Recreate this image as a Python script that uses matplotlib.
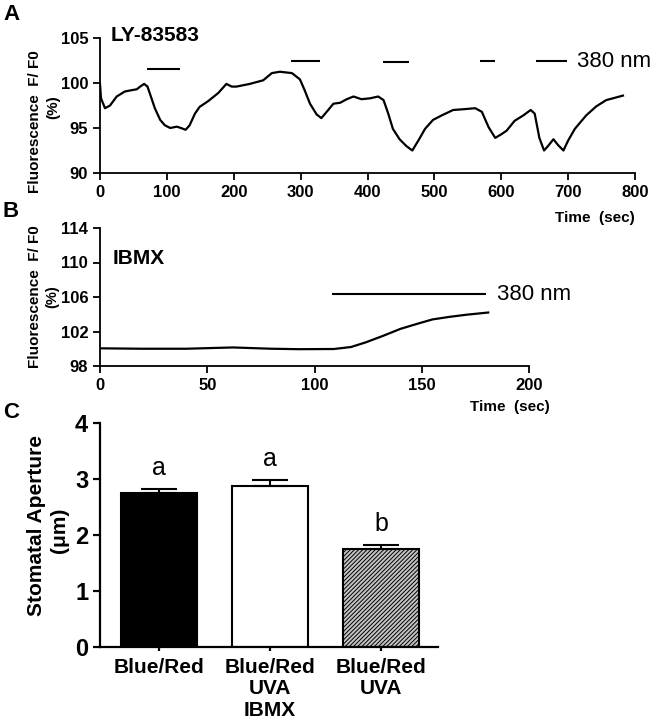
import matplotlib
matplotlib.use("Agg")
import matplotlib.pyplot as plt
import numpy as np

plt.rcParams['font.family'] = ['Liberation Sans', 'DejaVu Sans']
plt.rcParams['hatch.color'] = '#3a3a3a'
plt.rcParams['hatch.linewidth'] = 0.7

# ---------------- data ----------------
# Panel A: LY-83583 trace
tA = [0, 1.5, 7.5, 15, 25, 37, 47, 55, 60, 66, 71, 77, 82, 90, 97, 105, 115, 121, 128, 134, 142, 149,
      162, 177, 189, 197, 204, 224, 244, 257, 269, 287, 299, 306, 314, 324, 331, 339, 349, 359, 369,
      379, 391, 404, 416, 424, 431, 438, 448, 458, 467, 476, 486, 498, 511, 528, 546, 561, 571, 581,
      591, 600, 608, 620, 633, 644, 650, 657, 664, 670, 678, 685, 693, 700, 710, 727, 742, 757, 782]
fA = [99.9, 98.3, 97.2, 97.5, 98.5, 99.05, 99.2, 99.3, 99.6, 99.9, 99.6, 98.3, 97.2, 95.9, 95.3, 95.0,
      95.15, 95.0, 94.8, 95.3, 96.6, 97.35, 98.0, 98.9, 99.9, 99.6, 99.6, 99.9, 100.3, 101.1, 101.25,
      101.1, 100.4, 99.2, 97.7, 96.5, 96.1, 96.8, 97.7, 97.8, 98.2, 98.5, 98.2, 98.3, 98.5, 98.1, 96.6,
      94.9, 93.75, 93.0, 92.5, 93.6, 94.9, 95.9, 96.4, 97.0, 97.1, 97.2, 96.8, 95.1, 93.9, 94.3, 94.7,
      95.8, 96.4, 97.0, 96.6, 93.9, 92.5, 93.0, 93.75, 93.1, 92.5, 93.6, 94.9, 96.4, 97.4, 98.1, 98.6]
stimA_start = [70, 285, 423, 568, 652]
stimA_end = [120, 329, 462, 591, 698]
stimA_level = [101.6, 102.4, 102.3, 102.5, 102.5]

# Panel B: IBMX trace
tB = [0, 20, 40, 62, 80, 93, 109, 117, 124, 132, 140, 148, 155, 163, 171, 181]
fB = [100.05, 100.0, 100.0, 100.15, 100.0, 99.95, 99.97, 100.2, 100.75, 101.5, 102.3, 102.9, 103.4,
      103.7, 103.95, 104.2]
stimB_start = [108]
stimB_end = [180]
stimB_level = [106.3]

# Panel C: stomatal aperture
categories = ['Blue/Red', 'Blue/Red\nUVA\nIBMX', 'Blue/Red\nUVA']
aperture = [2.75, 2.875, 1.75]
aperture_err = [0.07, 0.10, 0.07]
letters = ['a', 'a', 'b']

W, H = 660, 723
fig = plt.figure(figsize=(W / 100, H / 100), dpi=100)


def rect(l, t, r, b):
    return [l / W, 1 - b / H, (r - l) / W, (b - t) / H]


def style(ax, lw=1.3):
    for s in ['top', 'right']:
        ax.spines[s].set_visible(False)
    for s in ['left', 'bottom']:
        ax.spines[s].set_linewidth(lw)
    ax.tick_params(direction='out', width=lw, length=5)


# ---------------- Panel A ----------------
axA = fig.add_axes(rect(100, 38, 635, 173))
axA.plot(tA, fA, color='black', lw=1.6, solid_joinstyle='round')
axA.hlines(stimA_level, stimA_start, stimA_end, color='black', lw=1.5)
axA.text(713, 102.4, '380 nm', fontsize=16, va='center', ha='left')
axA.set_xlim(0, 800)
axA.set_ylim(90, 105)
axA.set_xticks(range(0, 801, 100))
axA.set_yticks([90, 95, 100, 105])
style(axA)
for lab in axA.get_xticklabels() + axA.get_yticklabels():
    lab.set_fontweight('bold')
    lab.set_fontsize(12)
axA.text(0.02, 1.02, 'LY-83583', transform=axA.transAxes, fontsize=15, fontweight='bold',
         va='center', ha='left')
fig.text(635 / W, 1 - 218 / H, 'Time  (sec)', fontsize=11, fontweight='bold', ha='right', va='center')
fig.text(35 / W, 1 - 122 / H, 'Fluorescence  F/ F0', rotation=90, fontsize=11, fontweight='bold',
         ha='center', va='center')
fig.text(53 / W, 1 - 107 / H, '(%)', rotation=90, fontsize=11, fontweight='bold',
         ha='center', va='center')
fig.text(3 / W, 1 - 14 / H, 'A', fontsize=16, fontweight='bold', ha='left', va='center')

# ---------------- Panel B ----------------
axB = fig.add_axes(rect(100, 228, 529, 366))
axB.plot(tB, fB, color='black', lw=1.6, solid_joinstyle='round')
axB.hlines(stimB_level, stimB_start, stimB_end, color='black', lw=1.5)
axB.text(185, 106.3, '380 nm', fontsize=16, va='center', ha='left')
axB.set_xlim(0, 200)
axB.set_ylim(98, 114)
axB.set_xticks([0, 50, 100, 150, 200])
axB.set_yticks([98, 102, 106, 110, 114])
style(axB)
for lab in axB.get_xticklabels() + axB.get_yticklabels():
    lab.set_fontweight('bold')
    lab.set_fontsize(12)
axB.text(0.03, 0.78, 'IBMX', transform=axB.transAxes, fontsize=15, fontweight='bold',
         va='center', ha='left')
fig.text(510 / W, 1 - 407 / H, 'Time  (sec)', fontsize=11, fontweight='bold', ha='center', va='center')
fig.text(35 / W, 1 - 297 / H, 'Fluorescence  F/ F0', rotation=90, fontsize=11, fontweight='bold',
         ha='center', va='center')
fig.text(52 / W, 1 - 297 / H, '(%)', rotation=90, fontsize=10.5, fontweight='bold',
         ha='center', va='center')
fig.text(3 / W, 1 - 211 / H, 'B', fontsize=16, fontweight='bold', ha='left', va='center')

# ---------------- Panel C ----------------
axC = fig.add_axes(rect(100, 423, 438, 647))
x = np.arange(len(categories))
faces = ['black', 'white', '#c4c4c4']
hatches = [None, None, '////////']
for i in range(len(categories)):
    axC.bar(x[i], aperture[i], width=0.68, color=faces[i], edgecolor='black', lw=1.5,
            hatch=hatches[i], zorder=2)
    axC.errorbar(x[i], aperture[i], yerr=[[0], [aperture_err[i]]], color='black', lw=1.5,
                 capsize=13, capthick=1.5, zorder=3)
    axC.text(x[i], aperture[i] + aperture_err[i] + 0.26, letters[i], fontsize=18,
             ha='center', va='baseline')
axC.set_xlim(-0.53, 2.51)
axC.set_ylim(0, 4)
axC.set_yticks([0, 1, 2, 3, 4])
axC.set_xticks(x)
axC.set_xticklabels(categories, fontsize=15, fontweight='bold', linespacing=1.15)
style(axC, lw=1.6)
axC.tick_params(axis='x', length=3, pad=5)
for lab in axC.get_yticklabels():
    lab.set_fontweight('bold')
    lab.set_fontsize(17)
fig.text(37 / W, 1 - 525 / H, 'Stomatal Aperture', rotation=90, fontsize=15, fontweight='bold',
         ha='center', va='center')
fig.text(60 / W, 1 - 530 / H, '(μm)', rotation=90, fontsize=15, fontweight='bold',
         ha='center', va='center')
fig.text(3 / W, 1 - 413 / H, 'C', fontsize=16, fontweight='bold', ha='left', va='center')

fig.savefig('out.png', dpi=100)
